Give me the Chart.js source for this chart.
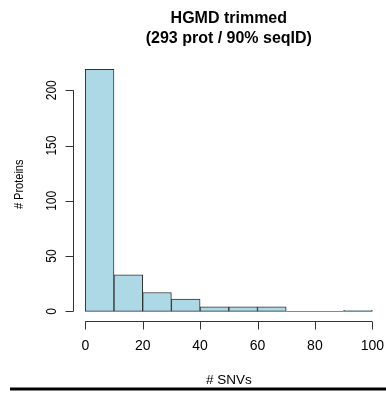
<!DOCTYPE html>
<html>
<head>
<meta charset="utf-8">
<script src="https://cdn.jsdelivr.net/npm/chart.js@4"></script>
<style>
  html, body { margin: 0; padding: 0; background: #fff; }
  #wrap { width: 386px; height: 393px; }
</style>
</head>
<body>
<div id="wrap"><canvas id="hist"></canvas></div>
<script>
// ── Data ──
const binEdges = [0, 10, 20, 30, 40, 50, 60, 70, 80, 90, 100];
const counts   = [219, 33, 17, 11, 4, 4, 4, 0, 0, 1];
const xTicks   = [0, 20, 40, 60, 80, 100];
const yTicks   = [0, 50, 100, 150, 200];
const titleLines = ["HGMD trimmed", "(293 prot / 90% seqID)"];
const xLabel = "# SNVs";
const yLabel = "# Proteins";

const FONT = '"Liberation Sans", Arial, Helvetica, sans-serif';

// R-style 4% padding around the data range
const xLo = binEdges[0], xHi = binEdges[binEdges.length - 1];
const xPad = (xHi - xLo) * 0.04;
const yHi = Math.max(...counts);
const yPad = yHi * 0.04;

const barData = counts.map((c, i) => ({ x: (binEdges[i] + binEdges[i + 1]) / 2, y: c }));

// vertical text, slightly widened like the reference rendering
function upText(ctx, text, px, py, font) {
  ctx.save();
  ctx.font = font;
  ctx.translate(px, py);
  ctx.rotate(-Math.PI / 2);
  ctx.scale(1, 1.18);
  ctx.fillText(text, 0, 0);
  ctx.restore();
}

// ── R-like axes, labels and title ──
const rAxes = {
  id: "rAxes",
  afterDraw(chart) {
    const { ctx, chartArea, scales: { x, y } } = chart;
    ctx.save();
    ctx.lineWidth = 1;

    // empty bins still show as a flat outline on the baseline
    ctx.strokeStyle = "#888";
    const py0 = Math.round(y.getPixelForValue(0)) + 0.5;
    counts.forEach((c, i) => {
      if (c !== 0) return;
      ctx.beginPath();
      ctx.moveTo(x.getPixelForValue(binEdges[i]), py0);
      ctx.lineTo(x.getPixelForValue(binEdges[i + 1]), py0);
      ctx.stroke();
    });

    ctx.strokeStyle = "#333";
    // y axis
    const ax = Math.floor(chartArea.left) + 0.5;
    ctx.beginPath();
    ctx.moveTo(ax, y.getPixelForValue(yTicks[0]));
    ctx.lineTo(ax, y.getPixelForValue(yTicks[yTicks.length - 1]));
    yTicks.forEach(v => {
      const p = Math.round(y.getPixelForValue(v)) + 0.5;
      ctx.moveTo(ax - 8, p);
      ctx.lineTo(ax, p);
    });
    ctx.stroke();

    // x axis
    const ay = Math.floor(chartArea.bottom) + 0.5;
    ctx.beginPath();
    ctx.moveTo(x.getPixelForValue(xTicks[0]), ay);
    ctx.lineTo(x.getPixelForValue(xTicks[xTicks.length - 1]), ay);
    xTicks.forEach(v => {
      const p = Math.round(x.getPixelForValue(v)) + 0.5;
      ctx.moveTo(p, ay);
      ctx.lineTo(p, ay + 8);
    });
    ctx.stroke();

    ctx.fillStyle = "#000";
    ctx.textBaseline = "alphabetic";
    ctx.textAlign = "center";

    // x tick labels
    ctx.font = "14px " + FONT;
    xTicks.forEach(v => ctx.fillText(String(v), x.getPixelForValue(v), 350));

    // y tick labels, vertical like R's default
    yTicks.forEach(v => upText(ctx, String(v), 55.5, y.getPixelForValue(v), "12px " + FONT));

    const cx = (chartArea.left + chartArea.right) / 2;
    const cy = (chartArea.top + chartArea.bottom) / 2;

    // axis titles
    ctx.font = "13.5px " + FONT;
    ctx.fillText(xLabel, cx, 384);
    upText(ctx, yLabel, 23, cy - 6, "11px " + FONT);

    // title
    ctx.font = "bold 16px " + FONT;
    ctx.fillText(titleLines[0], cx, 23);
    ctx.fillText(titleLines[1], cx, 43);

    // rule under the figure
    ctx.strokeStyle = "#000";
    ctx.lineWidth = 3;
    ctx.beginPath();
    ctx.moveTo(10, 389);
    ctx.lineTo(386, 389);
    ctx.stroke();

    ctx.restore();
  }
};

new Chart(document.getElementById("hist"), {
  type: "bar",
  data: {
    datasets: [{
      data: barData,
      backgroundColor: "#ADD8E6",
      borderColor: "#333",
      borderWidth: 1,
      borderSkipped: false,
      barPercentage: 1,
      categoryPercentage: 1
    }]
  },
  options: {
    responsive: true,
    maintainAspectRatio: false,
    animation: false,
    devicePixelRatio: 1,
    layout: { padding: { top: 59.6, right: 2.2, left: 0, bottom: 0 } },
    plugins: { legend: { display: false }, tooltip: { enabled: false } },
    scales: {
      x: {
        type: "linear",
        min: xLo - xPad,
        max: xHi + xPad,
        offset: false,
        grid: { display: false, offset: false },
        border: { display: false },
        ticks: { display: false },
        afterFit: s => { s.height = 72; }
      },
      y: {
        min: -yPad,
        max: yHi + yPad,
        grid: { display: false },
        border: { display: false },
        ticks: { display: false },
        afterFit: s => { s.width = 73.8; }
      }
    }
  },
  plugins: [rAxes]
});
</script>
</body>
</html>
